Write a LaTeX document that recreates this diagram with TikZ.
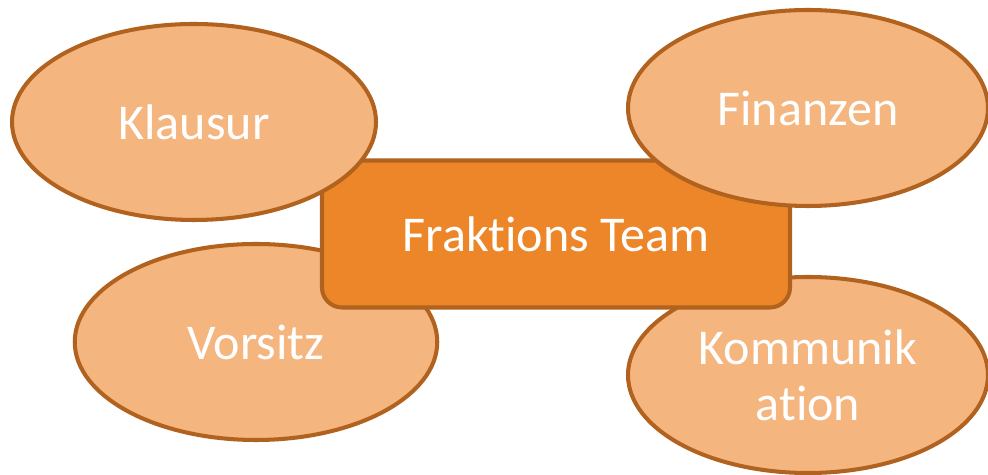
\documentclass[tikz,border=0pt]{standalone}
\usepackage{fontspec}
\setmainfont[Ligatures=NoCommon]{Carlito}
\usepackage{tikz}
\usetikzlibrary{shapes.geometric}
\definecolor{ellfill}{HTML}{F4B57F}
\definecolor{edge}{HTML}{B1621F}
\definecolor{teamfill}{HTML}{ED8629}
\tikzstyle{blob} = [ellipse, minimum width=7.25cm, minimum height=3.92cm, inner sep=0pt, draw=edge, line width=2.3pt, fill=ellfill, text=white, align=center]
\tikzstyle{team} = [rectangle, rounded corners=0.4cm, minimum width=9.36cm, minimum height=2.94cm, draw=edge, line width=2.3pt, fill=teamfill, text=white]

\begin{document}
\begin{tikzpicture}[font=\fontsize{28.5}{32}\selectfont]
  \useasboundingbox (0,0) rectangle (19.76,9.5);
  \clip (0,0) rectangle (19.76,9.5);

  \node (vorsitz) [blob] at (5.12,2.66) {Vorsitz};
  \node (komm) [blob, minimum width=7.2cm] at (16.16,2.0) {Kommunik\\ation};

  \node (fraktion) [team] at (11.12,4.82) {Fraktions Team};

  \node (klausur) [blob, minimum width=7.28cm] at (3.88,7.06) {Klausur};
  \node (finanzen) [blob, minimum width=7.2cm] at (16.16,7.34) {Finanzen};
\end{tikzpicture}
\end{document}
